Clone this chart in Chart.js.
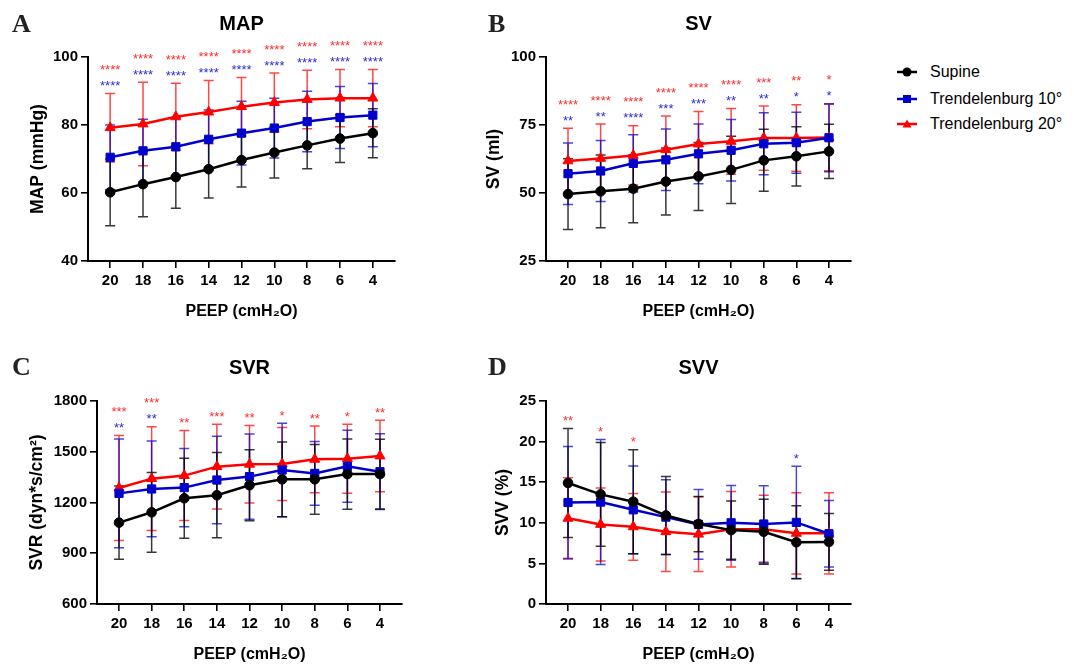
<!DOCTYPE html>
<html><head><meta charset="utf-8">
<script src="https://cdn.jsdelivr.net/npm/chart.js@4.4.1/dist/chart.umd.min.js"></script>
<style>
html,body{margin:0;padding:0;background:#fff;}
#wrap{position:relative;width:1074px;height:664px;overflow:hidden;background:#fff;}
canvas{position:absolute;}
.leg{position:absolute;left:896px;height:20px;display:flex;align-items:center;font:16px Arial,'Liberation Sans',sans-serif;color:#000;white-space:nowrap;}
.leg svg{margin-right:12px;}
</style></head>
<body><div id="wrap">
<canvas id="cA" width="480" height="330" style="left:0;top:0"></canvas>
<canvas id="cB" width="400" height="330" style="left:480px;top:0"></canvas>
<canvas id="cC" width="480" height="334" style="left:0;top:330px"></canvas>
<canvas id="cD" width="400" height="334" style="left:480px;top:330px"></canvas>
<div class="leg" style="top:62px"><svg width="22" height="14"><line x1="1" y1="7" x2="21" y2="7" stroke="#000" stroke-width="2.5"/><circle cx="11" cy="7" r="4.5" fill="#000"/></svg>Supine</div>
<div class="leg" style="top:89px"><svg width="22" height="14"><line x1="1" y1="7" x2="21" y2="7" stroke="#0000cc" stroke-width="2.5"/><rect x="7" y="3" width="8" height="8" fill="#0000cc"/></svg>Trendelenburg 10°</div>
<div class="leg" style="top:114px"><svg width="22" height="14"><line x1="1" y1="7" x2="21" y2="7" stroke="#ff0000" stroke-width="2.5"/><polygon points="11,2.5 15.5,10.5 6.5,10.5" fill="#ff0000"/></svg>Trendelenburg 20°</div>
</div>
<script>
// ---------- data ----------
const peep = [20, 18, 16, 14, 12, 10, 8, 6, 4];
const seriesNames = ['Supine', 'Trendelenburg 10°', 'Trendelenburg 20°'];

const mapSupine   = [60.2, 62.6, 64.7, 67.0, 69.7, 71.9, 74.0, 76.0, 77.6];
const mapSupineSD = [9.8, 9.6, 9.2, 8.5, 7.9, 7.5, 6.9, 7.0, 7.2];
const mapT10      = [70.5, 72.4, 73.6, 75.8, 77.6, 79.1, 81.0, 82.2, 82.9];
const mapT10SD    = [9.5, 9.3, 8.6, 8.6, 9.4, 8.8, 8.9, 9.1, 9.3];
const mapT20      = [79.2, 80.3, 82.4, 83.8, 85.4, 86.6, 87.5, 87.9, 87.9];
const mapT20SD    = [10.1, 12.3, 9.9, 9.3, 8.6, 8.7, 8.6, 8.4, 8.4];
const mapStarsT10 = ['****', '****', '****', '****', '****', '****', '****', '****', '****'];
const mapStarsT20 = ['****', '****', '****', '****', '****', '****', '****', '****', '****'];

const svSupine   = [49.6, 50.6, 51.6, 54.2, 56.1, 58.5, 62.0, 63.5, 65.3];
const svSupineSD = [13.0, 13.4, 12.5, 12.3, 12.5, 12.4, 11.4, 10.9, 10.0];
const svT10      = [57.1, 58.1, 60.9, 62.2, 64.4, 65.7, 68.1, 68.5, 70.3];
const svT10SD    = [11.3, 11.2, 10.5, 11.3, 11.0, 11.3, 11.4, 11.2, 12.5];
const svT20      = [61.8, 62.7, 63.8, 65.9, 68.0, 69.0, 70.2, 70.2, 70.4];
const svT20SD    = [12.0, 12.7, 10.9, 12.4, 12.0, 12.1, 11.8, 12.2, 12.2];
const svStarsT10 = ['**', '**', '****', '***', '***', '**', '**', '*', '*'];
const svStarsT20 = ['****', '****', '****', '****', '****', '****', '***', '**', '*'];

const svrSupine   = [1081, 1142, 1225, 1243, 1302, 1337, 1337, 1368, 1368];
const svrSupineSD = [217, 236, 237, 252, 210, 221, 206, 208, 206];
const svrT10      = [1254, 1280, 1288, 1333, 1353, 1392, 1372, 1414, 1382];
const svrT10SD    = [322, 283, 231, 259, 252, 276, 188, 213, 224];
const svrT20      = [1286, 1341, 1359, 1412, 1426, 1428, 1455, 1459, 1475];
const svrT20SD    = [310, 307, 266, 250, 229, 216, 197, 204, 211];
const svrStarsT10 = ['**', '**', '', '', '', '', '', '', ''];
const svrStarsT20 = ['***', '***', '**', '***', '**', '*', '**', '*', '**'];

const svvSupine   = [14.9, 13.5, 12.6, 10.9, 9.85, 9.1, 8.9, 7.6, 7.65];
const svvSupineSD = [6.7, 6.4, 6.4, 4.8, 3.4, 3.6, 4.0, 4.5, 3.5];
const svvT10      = [12.5, 12.55, 11.6, 10.7, 9.8, 10.0, 9.85, 10.05, 8.65];
const svvT10SD    = [6.9, 7.7, 5.4, 4.6, 4.3, 4.6, 4.7, 6.9, 4.1];
const svvT20      = [10.55, 9.8, 9.5, 8.9, 8.6, 9.2, 9.2, 8.7, 8.7];
const svvT20SD    = [5.0, 4.5, 4.1, 4.9, 4.6, 4.65, 4.2, 5.0, 5.0];
const svvStarsT10 = ['', '', '', '', '', '', '', '*', ''];
const svvStarsT20 = ['**', '*', '*', '', '', '', '', '', ''];

// ---------- styling ----------
const FONT = "Arial, 'Liberation Sans', sans-serif";
const COLORS = ['#000000', '#0000cc', '#ff0000'];
const BAR_COLORS = ['rgba(0,0,0,0.78)', 'rgba(0,0,204,0.72)', 'rgba(255,0,0,0.72)'];
const STAR_COLORS = ['#2a2ad8', '#ff2a2a'];
const STYLES = ['circle', 'rect', 'triangle'];
const RADII = [4.8, 5.8, 5.8];

const panelPlugin = {
  id: 'panel',
  beforeDatasetsDraw(chart) {
    const {ctx} = chart; const xs = chart.scales.x, ys = chart.scales.y;
    for (let i = chart.data.datasets.length - 1; i >= 0; i--) {
      const ds = chart.data.datasets[i];
      ctx.save();
      ctx.strokeStyle = BAR_COLORS[i]; ctx.lineWidth = 1.5;
      ds.data.forEach((pt, j) => {
        const sd = ds.sd[j];
        const px = xs.getPixelForValue(pt.x);
        const t = ys.getPixelForValue(pt.y + sd), b = ys.getPixelForValue(pt.y - sd);
        ctx.beginPath();
        ctx.moveTo(px, t); ctx.lineTo(px, b);
        ctx.moveTo(px - 5, t); ctx.lineTo(px + 5, t);
        ctx.moveTo(px - 5, b); ctx.lineTo(px + 5, b);
        ctx.stroke();
      });
      ctx.restore();
    }
  },
  afterDraw(chart, args, opts) {
    const {ctx, chartArea} = chart; const xs = chart.scales.x, ys = chart.scales.y;
    ctx.save();
    ctx.font = '13px ' + FONT; ctx.textAlign = 'center'; ctx.textBaseline = 'alphabetic';
    peep.forEach((p, j) => {
      let topPix = Infinity;
      chart.data.datasets.forEach(ds => {
        topPix = Math.min(topPix, ys.getPixelForValue(ds.data[j].y + ds.sd[j]));
      });
      const px = xs.getPixelForValue(p);
      let row = 0;
      opts.stars.forEach((arr, k) => {
        const s = arr[j];
        if (!s) return;
        const cy = topPix - 11 - 16 * row;
        ctx.fillStyle = STAR_COLORS[k];
        ctx.fillText(s, px, cy + 7.6);
        row++;
      });
    });
    ctx.fillStyle = '#000';
    ctx.font = 'bold 20px ' + FONT;
    ctx.fillText(opts.title, (chartArea.left + chartArea.right) / 2, chartArea.top - 27.5);
    ctx.textAlign = 'left';
    ctx.font = "bold 26px 'Times New Roman', 'Liberation Serif', serif";
    ctx.fillStyle = '#222';
    ctx.fillText(opts.letter, opts.letterX, opts.letterY);
    ctx.restore();
  }
};

function makeChart(id, def) {
  const datasets = def.series.map((vals, i) => ({
    label: seriesNames[i],
    data: vals.map((v, j) => ({x: peep[j], y: v})),
    sd: def.sds[i],
    borderColor: COLORS[i], backgroundColor: COLORS[i],
    borderWidth: 2.5,
    pointStyle: STYLES[i], pointRadius: RADII[i], pointHoverRadius: RADII[i],
    pointBorderWidth: 1, pointBorderColor: COLORS[i], pointBackgroundColor: COLORS[i],
    tension: 0, fill: false
  }));
  const tickFont = {family: FONT, size: 15, weight: 'bold'};
  const xTitleFont = {family: FONT, size: 16, weight: 'bold'};
  const yTitleFont = {family: FONT, size: 17.5, weight: 'bold'};
  return new Chart(document.getElementById(id), {
    type: 'line',
    data: {datasets},
    plugins: [panelPlugin],
    options: {
      responsive: false, animation: false, devicePixelRatio: 1,
      layout: {padding: def.pad},
      plugins: {
        legend: {display: false}, tooltip: {enabled: false},
        panel: {title: def.title, letter: def.letter, letterX: def.letterX, letterY: def.letterY, stars: def.stars}
      },
      scales: {
        x: {
          type: 'linear', reverse: true, min: 2.65, max: 21.35,
          afterBuildTicks: s => { s.ticks = peep.map(v => ({value: v})); },
          afterFit: s => { s.height = 60; },
          grid: {display: true, drawOnChartArea: false, drawTicks: true, tickLength: 7, color: '#000', lineWidth: 1.6},
          border: {display: true, color: '#000', width: 2},
          ticks: {color: '#000', font: tickFont, padding: 4, autoSkip: false, maxRotation: 0, callback: v => String(v)},
          title: {display: true, text: 'PEEP (cmH₂O)', color: '#000', font: xTitleFont, padding: {top: 0, bottom: 0}}
        },
        y: {
          min: def.yMin, max: def.yMax,
          afterBuildTicks: s => { s.ticks = def.yTicks.map(v => ({value: v})); },
          afterFit: s => { s.width = def.yWidth; },
          grid: {display: true, drawOnChartArea: false, drawTicks: true, tickLength: 7, color: '#000', lineWidth: 1.6},
          border: {display: true, color: '#000', width: 2},
          ticks: {color: '#000', font: tickFont, padding: 3, callback: v => String(v)},
          title: {display: true, text: def.yTitle, color: '#000', font: yTitleFont, padding: {top: def.yTitlePad, bottom: 0}}
        }
      }
    }
  });
}

makeChart('cA', {
  title: 'MAP', letter: 'A', letterX: 12, letterY: 32,
  series: [mapSupine, mapT10, mapT20], sds: [mapSupineSD, mapT10SD, mapT20SD],
  stars: [mapStarsT10, mapStarsT20],
  yMin: 40, yMax: 100, yTicks: [40, 60, 80, 100], yTitle: 'MAP (mmHg)',
  yWidth: 88, yTitlePad: 28, pad: {left: 0, right: 85, top: 57, bottom: 9}
});
makeChart('cB', {
  title: 'SV', letter: 'B', letterX: 8, letterY: 32,
  series: [svSupine, svT10, svT20], sds: [svSupineSD, svT10SD, svT20SD],
  stars: [svStarsT10, svStarsT20],
  yMin: 25, yMax: 100, yTicks: [25, 50, 75, 100], yTitle: 'SV (ml)',
  yWidth: 66, yTitlePad: 4, pad: {left: 0, right: 29, top: 57, bottom: 9}
});
makeChart('cC', {
  title: 'SVR', letter: 'C', letterX: 12, letterY: 45,
  series: [svrSupine, svrT10, svrT20], sds: [svrSupineSD, svrT10SD, svrT20SD],
  stars: [svrStarsT10, svrStarsT20],
  yMin: 600, yMax: 1800, yTicks: [600, 900, 1200, 1500, 1800], yTitle: 'SVR (dyn*s/cm²)',
  yWidth: 97, yTitlePad: 27, pad: {left: 0, right: 78, top: 71, bottom: 0}
});
makeChart('cD', {
  title: 'SVV', letter: 'D', letterX: 8, letterY: 45,
  series: [svvSupine, svvT10, svvT20], sds: [svvSupineSD, svvT10SD, svvT20SD],
  stars: [svvStarsT10, svvStarsT20],
  yMin: 0, yMax: 25, yTicks: [0, 5, 10, 15, 20, 25], yTitle: 'SVV (%)',
  yWidth: 66, yTitlePad: 13, pad: {left: 0, right: 29, top: 71, bottom: 0}
});
</script>
</body></html>
